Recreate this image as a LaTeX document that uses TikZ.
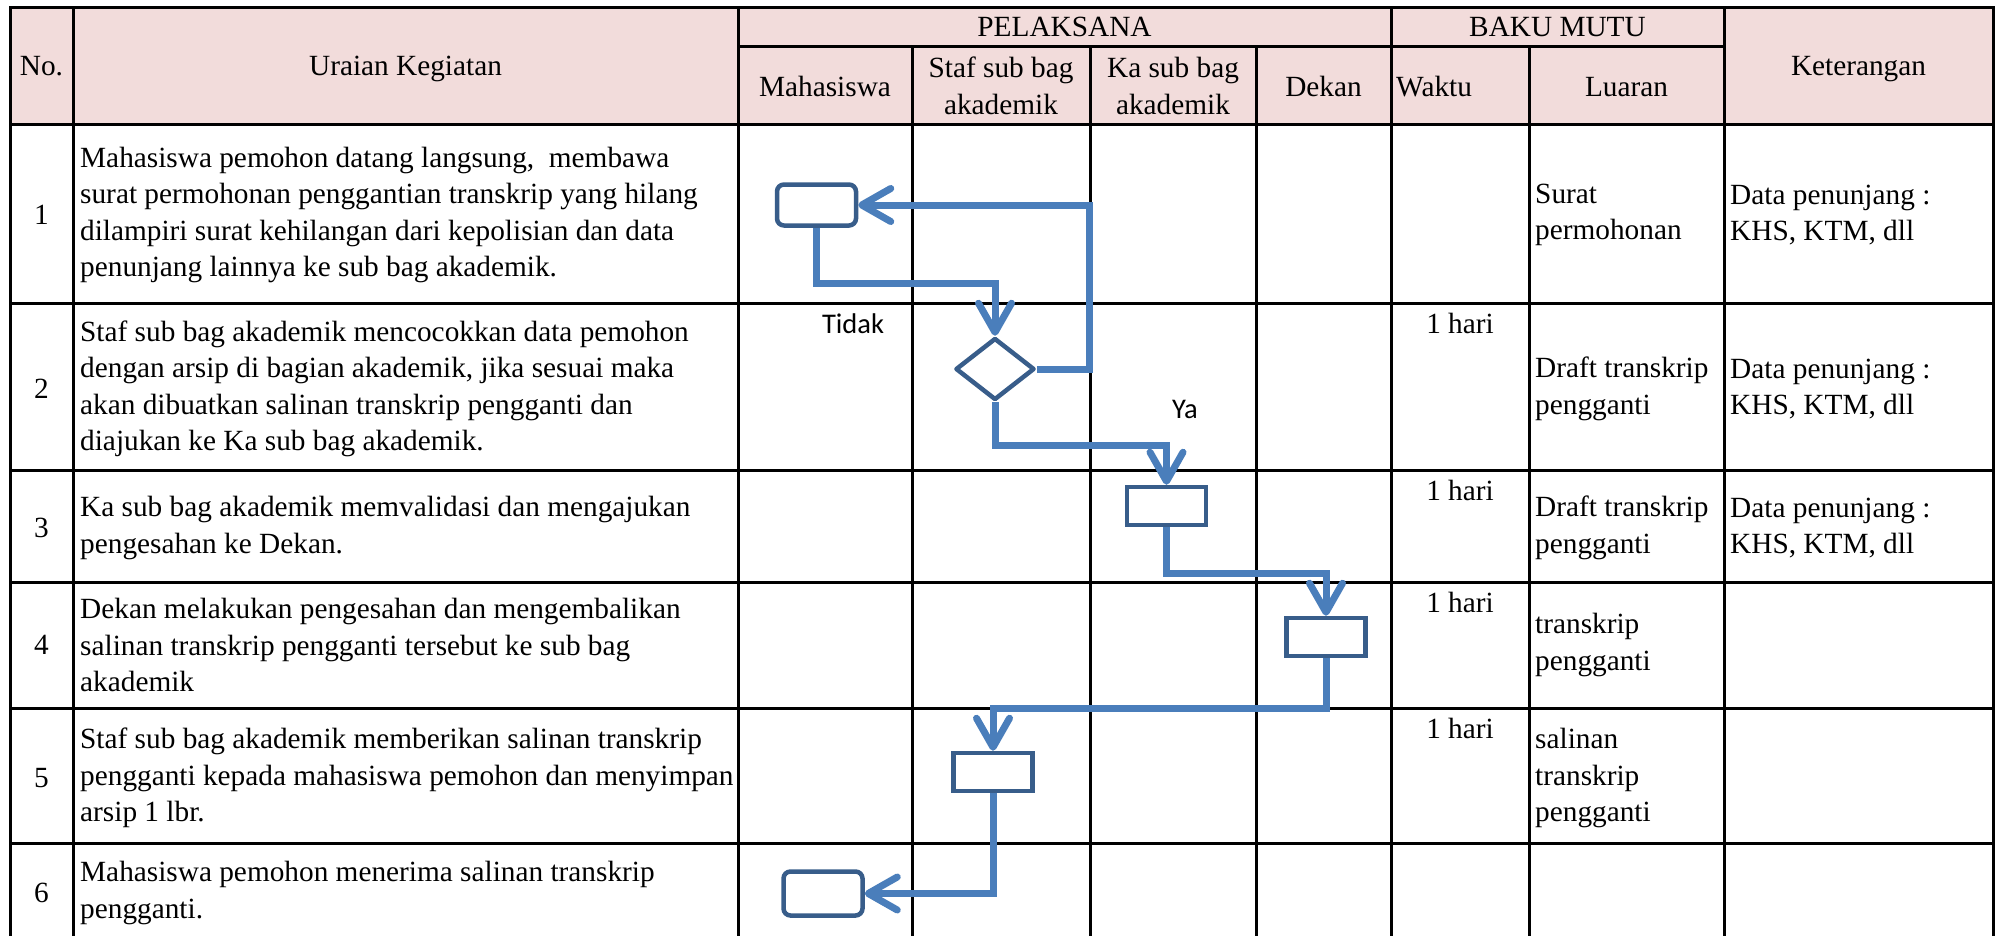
\documentclass[tikz,border=0pt]{standalone}
\usepackage{fontspec}
\setmainfont{Liberation Serif}
\newfontfamily\flowfont{Carlito}
\usepackage{tikz}
\usetikzlibrary{arrows.meta}
\usetikzlibrary{shapes.geometric}
\tikzset{tabline/.style = {line width = 3pt, line cap = rect}}
\tikzset{proc/.style = {draw = mnavy, fill = white, line width = 4.5pt, minimum width = 79pt, minimum height = 38pt}}
\tikzset{term/.style = {proc, rounded corners = 7pt, minimum height = 41pt}}
\tikzset{decide/.style = {proc, diamond, line join = round, minimum width = 79pt, minimum height = 62pt}}
\tikzset{flow/.style = {draw = mblue, line width = 7pt, -{Straight Barb[length = 29pt, width = 33pt, round]}}}
\tikzset{cell/.style = {anchor = west, align = left}}
\tikzset{yn/.style = {font = \flowfont\fontsize{28.5}{34}\selectfont}}
\definecolor{mpink}{RGB}{242, 220, 219}
\definecolor{mnavy}{RGB}{56, 93, 138}
\definecolor{mblue}{RGB}{74, 126, 187}

\begin{document}
\begin{tikzpicture}[x = 1pt, y = -1pt, inner sep = 0pt, font = \fontsize{29.3}{36.5}\selectfont]
    \useasboundingbox (0, 0) rectangle (1996, 935);

    % table
    \fill [mpink] (10, 7) rectangle (1993, 124);
    \foreach \x in {10, 73, 738, 1391, 1724, 1993} {
      \draw [tabline] (\x, 7) -- (\x, 940);
    }
    \foreach \x in {912, 1090, 1256, 1529} {
      \draw [tabline] (\x, 46) -- (\x, 940);
    }
    \foreach \y in {7, 124, 303, 470, 582, 708, 843} {
      \draw [tabline] (10, \y) -- (1993, \y);
    }
    \draw [tabline] (738, 46) -- (1724, 46);

    % header
    \node (hNo) at (41.5, 75) [anchor = base] {No.};
    \node (hUraian) at (405.5, 75) [anchor = base] {Uraian Kegiatan};
    \node (hPel) at (1064.5, 36) [anchor = base] {PELAKSANA};
    \node (hBaku) at (1557.5, 36) [anchor = base] {BAKU MUTU};
    \node (hKet) at (1858.5, 75) [anchor = base] {Keterangan};
    \node (hMhs) at (825, 96) [anchor = base] {Mahasiswa};
    \node (hStaf) at (1001, 57) [anchor = north, align = center] {Staf sub bag\\akademik};
    \node (hKa) at (1173, 57) [anchor = north, align = center] {Ka sub bag\\akademik};
    \node (hDekan) at (1323.5, 96) [anchor = base] {Dekan};
    \node (hWaktu) at (1396, 96) [anchor = base west] {Waktu};
    \node (hLuaran) at (1626.5, 96) [anchor = base] {Luaran};

    % rows
    \foreach \n/\y in {1/215, 2/389, 3/528, 4/645, 5/778, 6/893} {
      \node (no\n) at (41.5, \y) {\n};
    }
    \node (u1) at (80, 215) [cell] {Mahasiswa pemohon datang langsung, \ membawa\\surat permohonan penggantian transkrip yang hilang\\dilampiri surat kehilangan dari kepolisian dan data\\penunjang lainnya ke sub bag akademik.};
    \node (u2) at (80, 389) [cell] {Staf sub bag akademik mencocokkan data pemohon\\dengan arsip di bagian akademik, jika sesuai maka\\akan dibuatkan salinan transkrip pengganti dan\\diajukan ke Ka sub bag akademik.};
    \node (u3) at (80, 528) [cell] {Ka sub bag akademik memvalidasi dan mengajukan\\pengesahan ke Dekan.};
    \node (u4) at (80, 645) [cell] {Dekan melakukan pengesahan dan mengembalikan\\salinan transkrip pengganti tersebut ke sub bag\\akademik};
    \node (u5) at (80, 778) [cell] {Staf sub bag akademik memberikan salinan transkrip\\pengganti kepada mahasiswa pemohon dan menyimpan\\arsip 1 lbr.};
    \node (u6) at (80, 893) [cell] {Mahasiswa pemohon menerima salinan transkrip\\pengganti.};

    \foreach \n/\y in {2/333, 3/500, 4/612, 5/738} {
      \node (w\n) at (1460, \y) [anchor = base] {1 hari};
    }
    \node (l1) at (1535, 215) [cell] {Surat\\permohonan};
    \node (l2) at (1535, 389) [cell] {Draft transkrip\\pengganti};
    \node (l3) at (1535, 528) [cell] {Draft transkrip\\pengganti};
    \node (l4) at (1535, 645) [cell] {transkrip\\pengganti};
    \node (l5) at (1535, 778) [cell] {salinan\\transkrip\\pengganti};
    \foreach \n/\y in {1/215, 2/389, 3/528} {
      \node (k\n) at (1730, \y) [cell] {Data penunjang :\\KHS, KTM, dll};
    }

    % flow
    \node (s1) at (816.5, 205) [term] {};
    \node (s2) at (995, 369) [decide] {};
    \node (s3) at (1166.5, 506) [proc] {};
    \node (s4) at (1326, 637) [proc] {};
    \node (s5) at (993, 772) [proc] {};
    \node (s6) at (823, 893.5) [term, minimum height = 44pt] {};

    \draw [flow] (s1.south) -- ++(0, 56) -| (s2.north);
    \draw [flow] (s2.east) -- ++(53, 0) |- (s1.east);
    \draw [flow] (s2.south) -- ++(0, 43) -| (s3.north);
    \draw [flow] (s3.south) -- ++(0, 46) -| (s4.north);
    \draw [flow] (s4.south) -- ++(0, 50) -| (s5.north);
    \draw [flow] (s5.south) |- (s6.east);

    \node (tidak) at (853, 324) [yn] {Tidak};
    \node (ya) at (1185, 409) [yn] {Ya};
  \end{tikzpicture}
\end{document}
